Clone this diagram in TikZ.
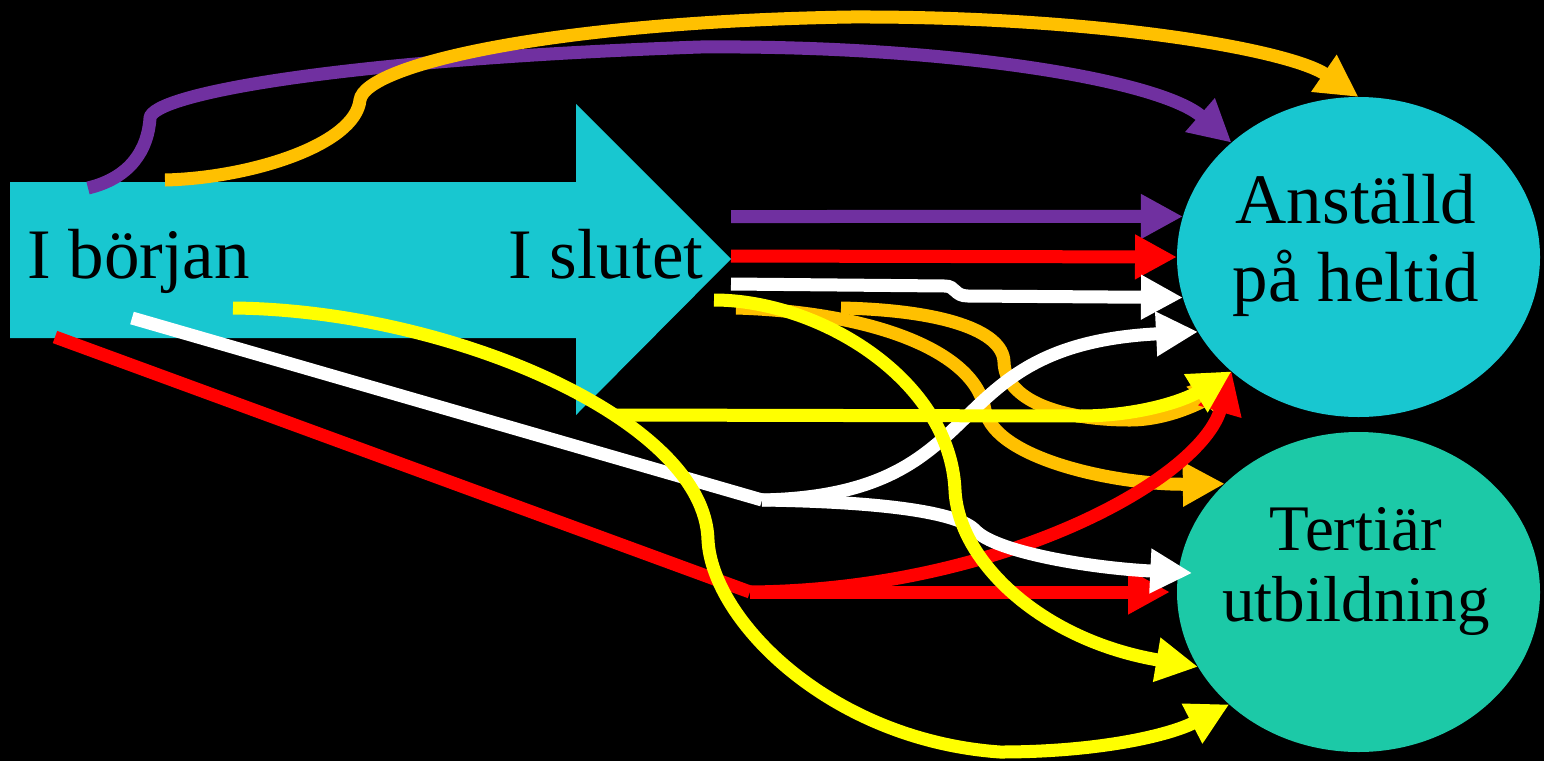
\documentclass[tikz,border=0pt]{standalone}
\usepackage{fontspec}
\setmainfont{Liberation Serif}
\usetikzlibrary{arrows.meta,shapes.geometric}
\definecolor{cyanA}{RGB}{24,199,208}
\definecolor{greenA}{RGB}{28,201,167}
\definecolor{purpleA}{RGB}{112,48,160}
\definecolor{goldA}{RGB}{255,192,0}
\definecolor{redA}{RGB}{255,0,0}
\definecolor{yellowA}{RGB}{255,255,0}
\begin{document}
\begin{tikzpicture}[x=1pt,y=-1pt,
  flow/.style={line width=13pt,-{Triangle[length=42pt,width=42pt]}},
  seg/.style={line width=13pt},
  oval/.style={ellipse,minimum width=363pt,minimum height=320pt,inner sep=0pt,outer sep=0pt},
  big/.style={font=\fontsize{71}{78}\selectfont,inner sep=0pt,text=black},
  mid/.style={font=\fontsize{65}{71}\selectfont,inner sep=0pt,text=black}]
\fill[black] (0,0) rectangle (1544,761);
\useasboundingbox (0,0) rectangle (1544,761);
% big timeline arrow
\fill[cyanA] (10,182) -- (576,182) -- (576,104) -- (731,259) -- (576,415) -- (576,338) -- (10,338) -- cycle;
\node[big,anchor=base west] (start) at (27,278) {I början};
\node[big,anchor=base west] (end) at (508,278) {I slutet};
% outcomes
\node[oval,fill=cyanA] (anst) at (1358.5,257) {};
\node[oval,fill=greenA] (tert) at (1358.5,592) {};
\node[big,align=center] (anstT) at (1356,245) {Anställd\\på heltid};
\node[mid,align=center] (tertT) at (1356,571.5) {Tertiär\\utbildning};
% start points
\coordinate (pA) at (88,188);
\coordinate (oA) at (165,180);
\coordinate (pB) at (731,216.5);
\coordinate (rB) at (731,256);
\coordinate (wB) at (731,284);
\coordinate (yB) at (714,300);
\coordinate (oB) at (736,308);
\coordinate (oC) at (841,308);
\coordinate (yC) at (615,415);
\coordinate (wA) at (132,318);
\coordinate (rA) at (55,337);
\coordinate (yA) at (233,308);
\coordinate (wJ) at (762,500);
\coordinate (rJ) at (750,592);
% top arcs
\draw[flow,purpleA] (pA) .. controls (130,178) and (148,150) .. (150,118) .. controls (152,95) and (330,60) .. (700,47) .. controls (950,45) and (1160,80) .. (anst.138);
\draw[flow,goldA] (oA) .. controls (250,178) and (355,145) .. (360,100) .. controls (365,65) and (550,22) .. (850,17) .. controls (1100,16) and (1290,50) .. (anst.north);
% from I slutet
\draw[flow,purpleA] (pB) -- (anst.167);
\draw[flow,redA] (rB) -- (anst.west);
\draw[flow,white] (wB) -- (945,286) .. controls (956,286) and (954,296) .. (968,296) -- (anst.193);
\draw[flow,goldA] (oB) .. controls (870,312) and (975,350) .. (985,410) .. controls (995,460) and (1120,485) .. (tert.141);
\draw[flow,goldA] (oC) .. controls (940,310) and (1003,330) .. (1004,362) .. controls (1005,400) and (1060,420) .. (1130,420) .. controls (1170,420) and (1205,400) .. (anst.222);
% red path
\draw[seg,redA] (rA) -- (rJ);
\draw[flow,redA] (rJ) -- ([xshift=-7pt]tert.west);
\draw[flow,redA] (rJ) .. controls (1000,590) and (1200,480) .. (anst.222);
% white path
\draw[seg,white] (wA) -- (wJ);
\draw[flow,white] (wJ) .. controls (1000,495) and (930,345) .. (anst.205);
\draw[flow,white] (wJ) .. controls (900,502) and (960,515) .. (975,530) .. controls (995,552) and (1090,568) .. ([xshift=14pt]tert.174);
% yellow paths
\draw[flow,yellowA] (yC) -- (1080,416) .. controls (1140,416) and (1185,400) .. (anst.222);
\draw[flow,yellowA] (yB) .. controls (820,300) and (950,380) .. (955,490) .. controls (958,560) and (1040,640) .. (tert.205);
\draw[flow,yellowA] (yA) .. controls (450,310) and (705,420) .. (708,540) .. controls (712,620) and (830,740) .. (1000,752) .. controls (1100,752) and (1170,735) .. (tert.221);
\end{tikzpicture}
\end{document}
